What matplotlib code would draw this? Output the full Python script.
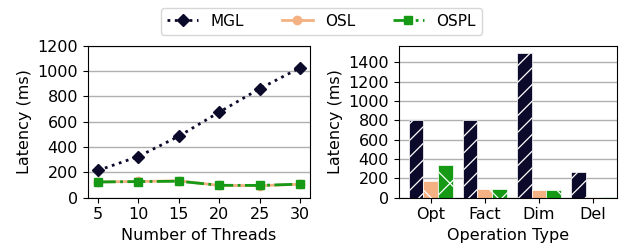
import matplotlib
matplotlib.use('Agg')
from matplotlib import pyplot as plt
import numpy as np

threads = [5, 10, 15, 20, 25, 30]
mgl_lat = [215, 325, 485, 675, 860, 1025]
osl_lat = [125, 128, 133, 97, 95, 106]
ospl_lat = [124, 127, 130, 98, 97, 107]

ops = ['Opt', 'Fact', 'Dim', 'Del']
mgl_ops = [800, 800, 1500, 270]
osl_ops = [170, 90, 80, 10]
ospl_ops = [340, 90, 80, 10]

c_mgl = '#0c0a2a'
c_osl = '#f4b183'
c_ospl = '#169a16'

plt.rcParams['font.size'] = 11.5
plt.rcParams['hatch.linewidth'] = 0.9

fig = plt.figure(figsize=(6.23, 2.49), dpi=100)
ax1 = fig.add_axes([0.141, 0.206, 0.357, 0.611])
ax2 = fig.add_axes([0.640, 0.206, 0.350, 0.611])

# left: latency vs threads
l1, = ax1.plot(threads, mgl_lat, linestyle=':', color=c_mgl, marker='D',
               markersize=6, linewidth=2, label='MGL')
l2, = ax1.plot(threads, osl_lat, linestyle='-', color=c_osl, marker='o',
               markersize=6, linewidth=2, label='OSL')
l3, = ax1.plot(threads, ospl_lat, linestyle='-.', color=c_ospl, marker='s',
               markersize=6, linewidth=2, label='OSPL')
ax1.set_ylim(0, 1200)
ax1.set_xticks(threads)
ax1.set_yticks(range(0, 1201, 200))
ax1.yaxis.grid(True, color='#b0b0b0', linewidth=1)
ax1.set_axisbelow(True)
ax1.set_xlabel('Number of Threads')
ax1.set_ylabel('Latency (ms)')

# right: latency per operation type
x = np.arange(len(ops))
w = 0.27
ax2.bar(x - w, mgl_ops, w, color=c_mgl, edgecolor='white', hatch='//', linewidth=0.5)
ax2.bar(x, osl_ops, w, color=c_osl, edgecolor='white', hatch='\\', linewidth=0.5)
ax2.bar(x + w, ospl_ops, w, color=c_ospl, edgecolor='white', hatch='x', linewidth=0.5)
ax2.set_xticks(x)
ax2.set_xticklabels(ops)
ax2.set_xlim(-0.59, 3.44)
ax2.set_ylim(0, 1575)
ax2.set_yticks(range(0, 1401, 200))
ax2.yaxis.grid(True, color='#b0b0b0', linewidth=1)
ax2.set_axisbelow(True)
ax2.set_xlabel('Operation Type')
ax2.set_ylabel('Latency (ms)')

fig.legend(handles=[l1, l2, l3], loc='upper center', bbox_to_anchor=(0.516, 1.0),
           ncol=3, frameon=True, columnspacing=2.5, fontsize=11)

fig.savefig('out.png', dpi=100)
